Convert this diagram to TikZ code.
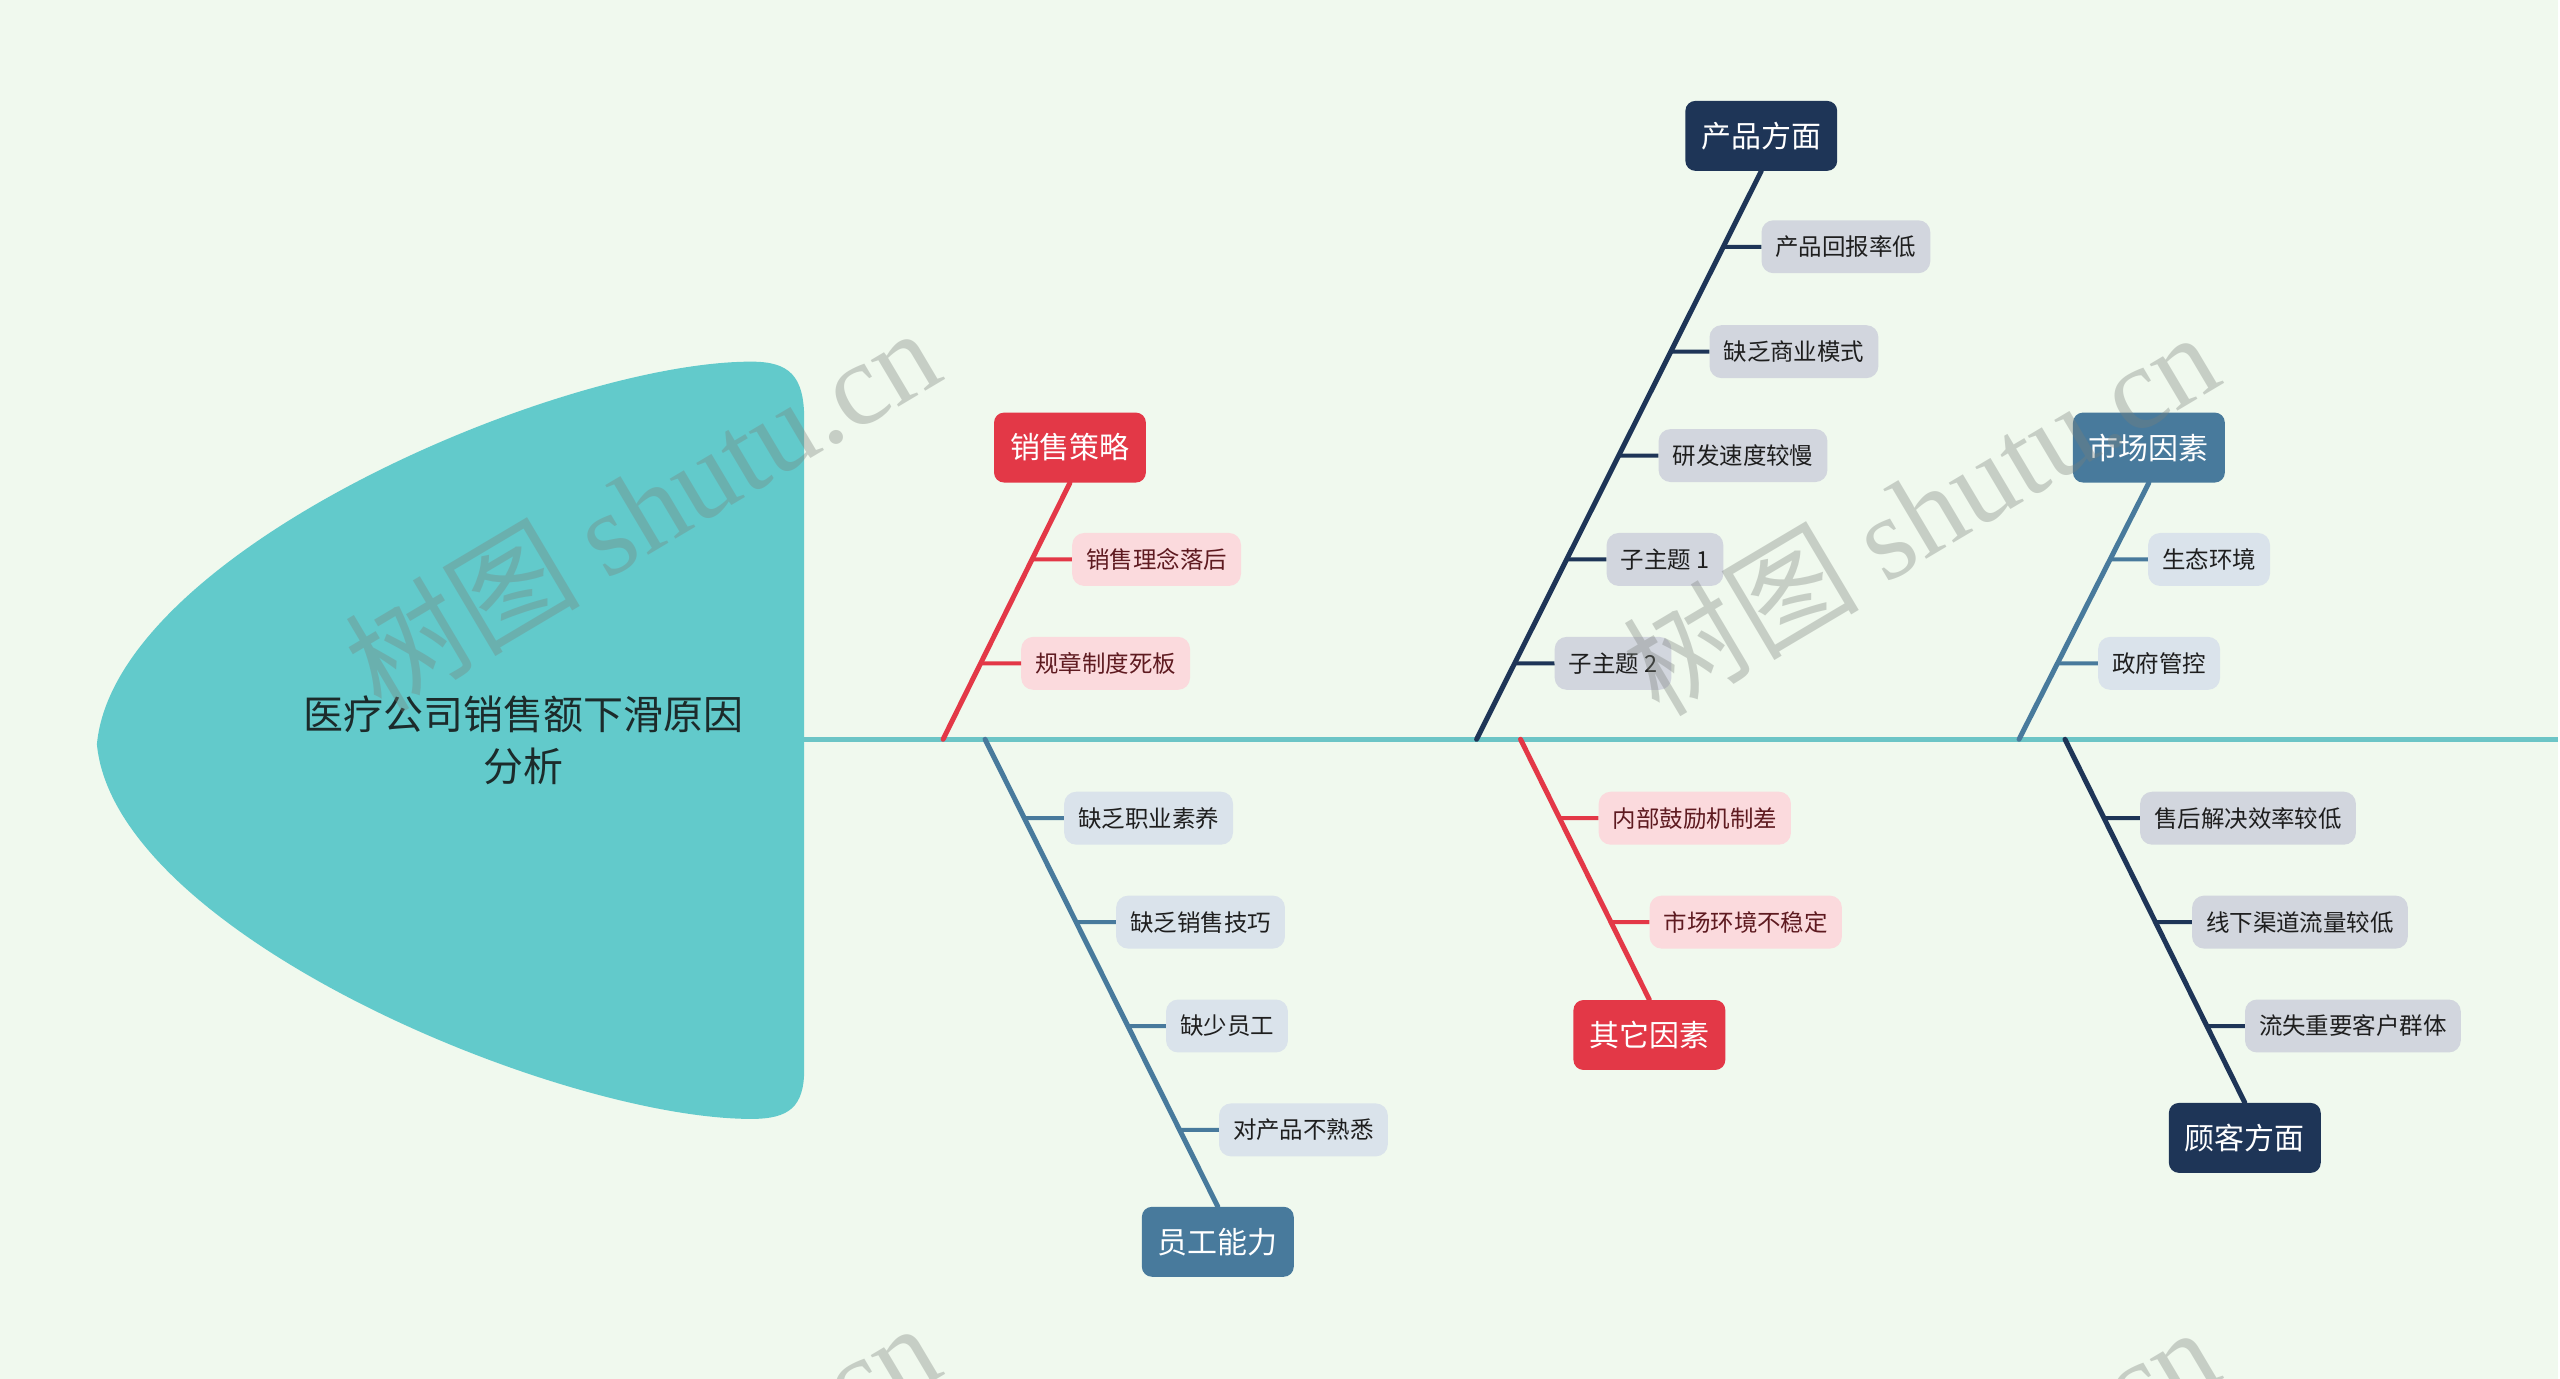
\documentclass[tikz,border=0pt]{standalone}
\usepackage{fontspec}
\setmainfont{Noto Sans CJK SC}
\newfontfamily\wmlat{Liberation Serif}
\usetikzlibrary{calc}
\definecolor{bgc}{HTML}{F0F9EE}
\definecolor{headc}{HTML}{62CACB}
\definecolor{spinec}{HTML}{6CC5C6}
\definecolor{redc}{HTML}{E33847}
\definecolor{redsub}{HTML}{FBDADD}
\definecolor{redtxt}{HTML}{5E1A20}
\definecolor{bluec}{HTML}{487A9C}
\definecolor{bluesub}{HTML}{DAE3EB}
\definecolor{navyc}{HTML}{1E3557}
\definecolor{navysub}{HTML}{D2D6DE}
\definecolor{subtxt}{HTML}{1E1E1E}
\definecolor{titletxt}{HTML}{1C2B2B}
\definecolor{wmc}{HTML}{7A807A}
\tikzset{
  mainbox/.style={rounded corners=10pt, minimum height=70pt, inner xsep=16pt, inner ysep=0pt, text=white, font=\fontsize{30}{36}\selectfont},
  subbox/.style={rounded corners=12pt, minimum height=53pt, inner xsep=14pt, inner ysep=0pt, anchor=west, font=\fontsize{23.5}{28}\selectfont},
  redmain/.style={mainbox, fill=redc},
  bluemain/.style={mainbox, fill=bluec},
  navymain/.style={mainbox, fill=navyc},
  redsubbox/.style={subbox, fill=redsub, text=redtxt},
  bluesubbox/.style={subbox, fill=bluesub, text=subtxt},
  navysubbox/.style={subbox, fill=navysub, text=subtxt},
  bline/.style={line width=5pt, line cap=round},
  sline/.style={line width=4pt},
  spinel/.style={line width=5pt, draw=spinec},
  wm/.style={text=wmc, opacity=0.35, font=\fontsize{118}{124}\selectfont, inner sep=0pt}
}
\begin{document}
\begin{tikzpicture}[x=1pt,y=-1pt]
\path[fill=bgc] (0,0) rectangle (2560,1380);
% fish head
\fill[headc] (805,420) -- (805,1070) .. controls (805,1108) and (790,1120) .. (752,1120)
  .. controls (560,1120) and (115,935) .. (97,745)
  .. controls (115,552) and (560,362) .. (752,362)
  .. controls (790,362) and (805,376) .. (805,420) -- cycle;
\node[align=center, text=titletxt, font=\fontsize{40}{53}\selectfont] (title) at (524,741) {医疗公司销售额下滑原因\\分析};
% spine
\coordinate (hr) at (805,740);
\coordinate (se) at (2560,740);
\draw[spinel] (hr) -- (se);
% roots on spine
\coordinate (r1) at (944,740);
\coordinate (r2) at (986,740);
\coordinate (r3) at (1478,740);
\coordinate (r4) at (1522,740);
\coordinate (r5) at (2021,740);
\coordinate (r6) at (2067,740);
% main boxes
\node[redmain] (b1) at (1071,448) {销售策略};
\node[bluemain] (b2) at (1219,1243) {员工能力};
\node[navymain] (b3) at (1763,136) {产品方面};
\node[redmain] (b4) at (1651,1036) {其它因素};
\node[bluemain] (b5) at (2151,448) {市场因素};
\node[navymain] (b6) at (2247,1139) {顾客方面};
\coordinate (t1) at (b1.south);
\coordinate (t2) at (b2.north);
\coordinate (t3) at (b3.south);
\coordinate (t4) at (b4.north);
\coordinate (t5) at (b5.south);
\coordinate (t6) at (b6.north);
% sub boxes
\node[redsubbox] (s11) at (1073,560) {销售理念落后};
\node[redsubbox] (s12) at (1022,664) {规章制度死板};
\node[bluesubbox] (s21) at (1065,819) {缺乏职业素养};
\node[bluesubbox] (s22) at (1117,923) {缺乏销售技巧};
\node[bluesubbox] (s23) at (1167,1027) {缺少员工};
\node[bluesubbox] (s24) at (1220,1131) {对产品不熟悉};
\node[navysubbox] (s31) at (1763,247) {产品回报率低};
\node[navysubbox] (s32) at (1711,352) {缺乏商业模式};
\node[navysubbox] (s33) at (1660,456) {研发速度较慢};
\node[navysubbox] (s34) at (1608,560) {子主题 1};
\node[navysubbox] (s35) at (1556,664) {子主题 2};
\node[redsubbox] (s41) at (1600,819) {内部鼓励机制差};
\node[redsubbox] (s42) at (1651,923) {市场环境不稳定};
\node[bluesubbox] (s51) at (2150,560) {生态环境};
\node[bluesubbox] (s52) at (2100,664) {政府管控};
\node[navysubbox] (s61) at (2142,819) {售后解决效率较低};
\node[navysubbox] (s62) at (2194,923) {线下渠道流量较低};
\node[navysubbox] (s63) at (2247,1027) {流失重要客户群体};
% branches
\draw[bline, redc] (r1) -- (t1);
\draw[bline, bluec] (r2) -- (t2);
\draw[bline, navyc] (r3) -- (t3);
\draw[bline, redc] (r4) -- (t4);
\draw[bline, bluec] (r5) -- (t5);
\draw[bline, navyc] (r6) -- (t6);
% sub connectors
\foreach \sa/\ra/\ta/\ca in {s11/r1/t1/redc, s12/r1/t1/redc,
  s21/r2/t2/bluec, s22/r2/t2/bluec, s23/r2/t2/bluec, s24/r2/t2/bluec,
  s31/r3/t3/navyc, s32/r3/t3/navyc, s33/r3/t3/navyc, s34/r3/t3/navyc, s35/r3/t3/navyc,
  s41/r4/t4/redc, s42/r4/t4/redc,
  s51/r5/t5/bluec, s52/r5/t5/bluec,
  s61/r6/t6/navyc, s62/r6/t6/navyc, s63/r6/t6/navyc}{
  \edef\mkconn{\noexpand\draw[sline, \ca] (\sa.west) -- (intersection of \ra--\ta\space and \sa.west--\sa.east);}
  \mkconn
}
% watermarks
\begin{scope}
\clip (0,0) rectangle (2560,1380);
\node[wm, rotate=30.7] (wm1) at (642,508) {树图 {\wmlat shutu.cn}};
\node[wm, rotate=30.7] (wm2) at (1922,512) {树图 {\wmlat shutu.cn}};
\node[wm, rotate=30.7] (wm3) at (642,1504) {树图 {\wmlat shutu.cn}};
\node[wm, rotate=30.7] (wm4) at (1922,1508) {树图 {\wmlat shutu.cn}};
\end{scope}
\end{tikzpicture}
\end{document}
